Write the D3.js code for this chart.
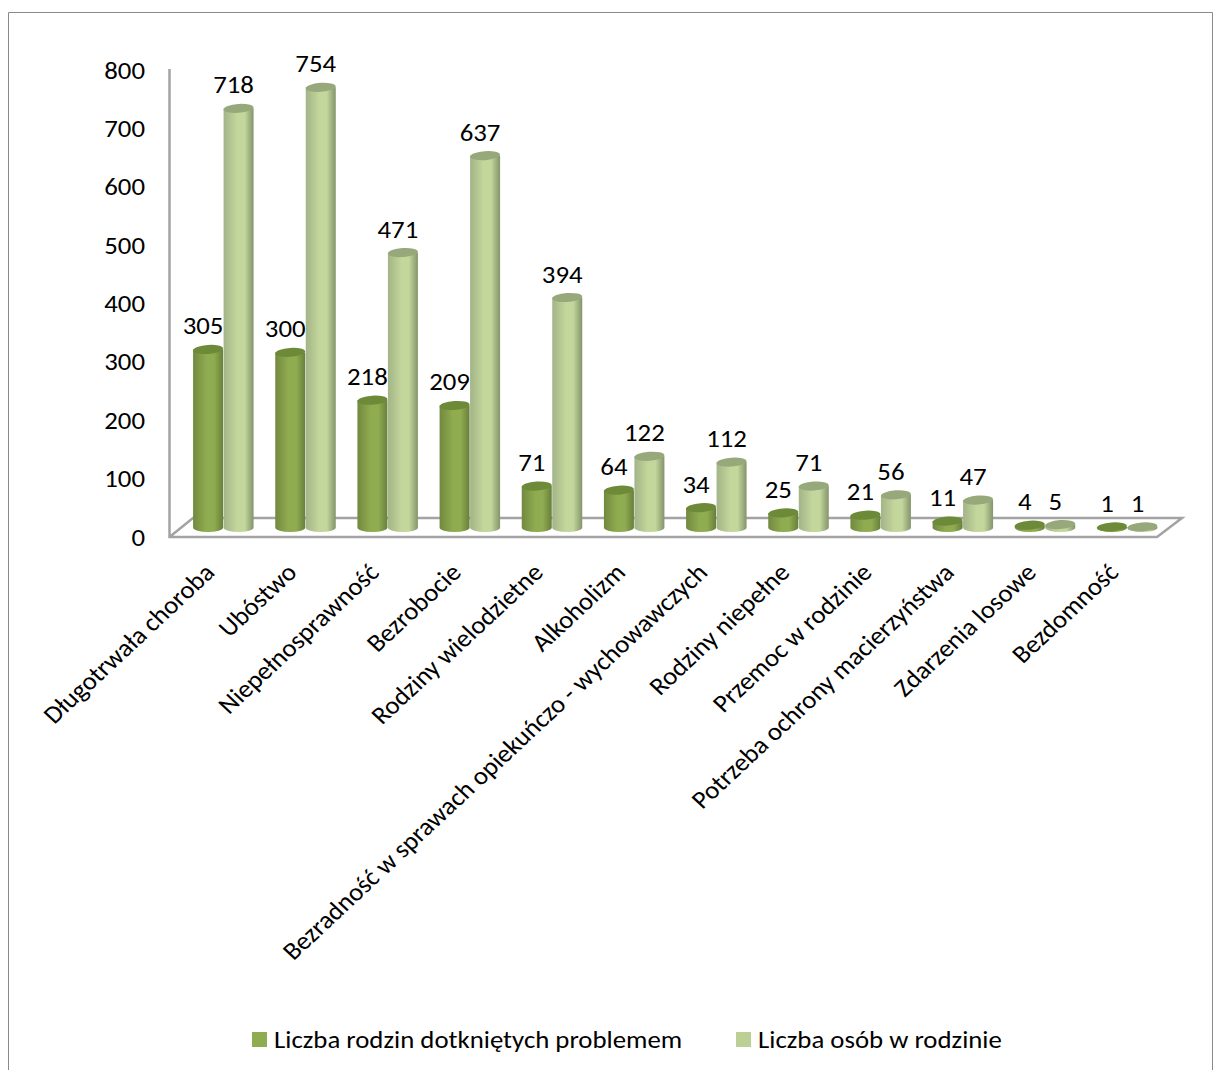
<!DOCTYPE html>
<html>
<head>
<meta charset="utf-8">
<script src="https://cdn.jsdelivr.net/npm/d3@7"></script>
<style>
  html, body { margin: 0; padding: 0; background: #fff; }
  svg { display: block; }
  text { font-family: Carlito, Lato, "Open Sans", sans-serif; fill: #000; }
</style>
</head>
<body>
<svg id="chart" width="1221" height="1070"></svg>
<script>
const categories = [
  "Długotrwała choroba", "Ubóstwo", "Niepełnosprawność", "Bezrobocie",
  "Rodziny wielodzietne", "Alkoholizm", "Bezradność w sprawach opiekuńczo - wychowawczych",
  "Rodziny niepełne", "Przemoc w rodzinie", "Potrzeba ochrony macierzyństwa",
  "Zdarzenia losowe", "Bezdomność"
];
const rodziny = [305, 300, 218, 209, 71, 64, 34, 25, 21, 11, 4, 1];
const osoby   = [718, 754, 471, 637, 394, 122, 112, 71, 56, 47, 5, 1];
const yTicks  = [0, 100, 200, 300, 400, 500, 600, 700, 800];
const seriesNames = ["Liczba rodzin dotkniętych problemem", "Liczba osób w rodzinie"];

const svg = d3.select("#chart");
const defs = svg.append("defs");
const fontSize = 25;
const stretch = 1.073;   // the original picture is a little wider than tall

// ── Scales ────────────────────────────────────────────────────────
const x = d3.scaleBand().domain(categories).range([183, 1169]).paddingInner(0).paddingOuter(0);
const barW = 30;
const yAxis = d3.scaleLinear().domain([0, 800]).range([537, 70]);
// bars stand on the floor further back than the axis
const yBar = d3.scaleLinear().domain([0, 800]).range([527.5, 60.5]);

// ── Gradients ─────────────────────────────────────────────────────
function cylGradient(id, edgeL, mid, edgeR) {
  const g = defs.append("linearGradient").attr("id", id).attr("x1", 0).attr("x2", 1).attr("y1", 0).attr("y2", 0);
  g.append("stop").attr("offset", "0%").attr("stop-color", edgeL);
  g.append("stop").attr("offset", "45%").attr("stop-color", mid);
  g.append("stop").attr("offset", "70%").attr("stop-color", mid);
  g.append("stop").attr("offset", "100%").attr("stop-color", edgeR);
}
cylGradient("darkBody", "#71893f", "#90ac50", "#677f3b");
cylGradient("lightBody", "#a3b488", "#c3d69b", "#84946c");

// ── Frame and floor ───────────────────────────────────────────────
svg.append("path")
  .attr("d", "M8.5,1070V12.5H1212.5V1070")
  .attr("fill", "none").attr("stroke", "#8a8a8a").attr("stroke-width", 1);

const axisColor = "#a3a3a3";
svg.append("path")
  .attr("d", "M169.5,69V537H1157L1182,518H193L169.5,537")
  .attr("fill", "none").attr("stroke", axisColor).attr("stroke-width", 2.5);

// ── Y axis ────────────────────────────────────────────────────────
const axis = d3.axisLeft(yAxis).tickValues(yTicks).tickSize(0).tickPadding(24);
const axisG = svg.append("g").attr("transform", "translate(169,0)").call(axis);
axisG.select(".domain").remove();
axisG.selectAll("text")
  .attr("font-size", fontSize)
  .attr("x", -24 / stretch)
  .attr("transform", `scale(${stretch},1)`)
  .style("font-family", "Carlito, Lato, sans-serif");

// ── Bars ──────────────────────────────────────────────────────────
function drawCylinder(sel, cx, val, bodyId, topColor) {
  const yTop = yBar(val), yBase = yBar(0);
  const rx = barW / 2, ry = 4.5;
  const xl = cx - rx, xr = cx + rx;
  sel.append("path")
    .attr("d", `M${xl},${yTop}V${yBase}A${rx},${ry} 0 0 0 ${xr},${yBase}V${yTop}Z`)
    .attr("fill", `url(#${bodyId})`);
  sel.append("ellipse")
    .attr("cx", cx).attr("cy", yTop).attr("rx", rx).attr("ry", ry)
    .attr("transform", `rotate(-4 ${cx} ${yTop})`)
    .attr("fill", topColor);
}

function valueLabel(sel, cx, val) {
  sel.append("text")
    .attr("transform", `translate(${cx - 5},${yBar(val) - 15}) scale(${stretch},1)`)
    .attr("text-anchor", "middle").attr("font-size", fontSize).text(val);
}

const groups = svg.append("g").selectAll("g").data(categories).join("g");
groups.each(function (c, i) {
  const g = d3.select(this);
  const c0 = x(c) + x.bandwidth() / 2 - 15 - 1;
  const c1 = c0 + barW + 0.5;
  drawCylinder(g, c0, rodziny[i], "darkBody", "#6d8a38");
  drawCylinder(g, c1, osoby[i], "lightBody", "#97a97b");
  valueLabel(g, c0, rodziny[i]);
  valueLabel(g, c1, osoby[i]);
});

// ── Category labels ───────────────────────────────────────────────
svg.append("g").selectAll("text").data(categories).join("text")
  .attr("transform", c => `translate(${x(c) + x.bandwidth() / 2 - 8},574) scale(${stretch},1) rotate(-45)`)
  .attr("text-anchor", "end")
  .attr("font-size", fontSize)
  .text(c => c);

// ── Legend ────────────────────────────────────────────────────────
const legendX = [252, 736];
const legendColor = ["#8fac50", "#bcd096"];
seriesNames.forEach((name, i) => {
  svg.append("rect").attr("x", legendX[i]).attr("y", 1032).attr("width", 15).attr("height", 15).attr("fill", legendColor[i]);
  svg.append("text")
    .attr("transform", `translate(${legendX[i] + 22},1048) scale(${stretch},1)`)
    .attr("font-size", fontSize).text(name);
});
</script>
</body>
</html>
